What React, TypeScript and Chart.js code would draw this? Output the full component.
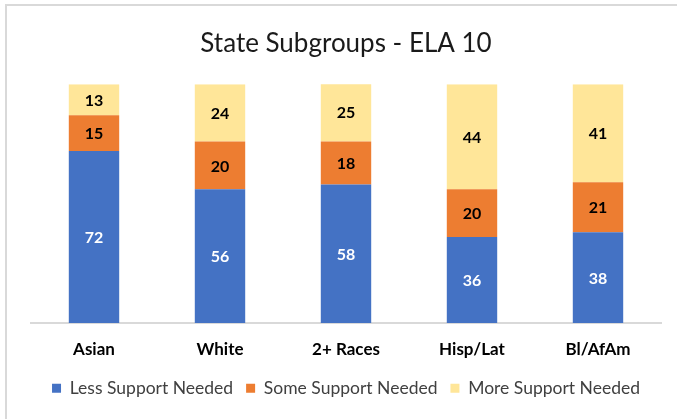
import React, { useEffect, useRef } from "react";
import { Chart, registerables } from "chart.js";

Chart.register(...registerables);

const categories = ["Asian", "White", "2+ Races", "Hisp/Lat", "Bl/AfAm"];
const lessSupport = [72, 56, 58, 36, 38];
const someSupport = [15, 20, 18, 20, 21];
const moreSupport = [13, 24, 25, 44, 41];
const seriesNames = ["Less Support Needed", "Some Support Needed", "More Support Needed"];
const FONT = "Lato, 'Open Sans', sans-serif";

const frame = {
  id: "frame",
  beforeDraw(chart: any) {
    const ctx = chart.ctx;
    ctx.save();
    ctx.fillStyle = "#ffffff";
    ctx.fillRect(0, 0, chart.width, chart.height);
    ctx.strokeStyle = "#d9d9d9";
    ctx.lineWidth = 2;
    ctx.strokeRect(6, 5, chart.width + 20, chart.height + 20);
    ctx.restore();
  },
};

const valueLabels = {
  id: "valueLabels",
  afterDatasetsDraw(chart: any) {
    const ctx = chart.ctx;
    ctx.save();
    ctx.font = `bold 16px ${FONT}`;
    ctx.textAlign = "center";
    ctx.textBaseline = "middle";
    chart.data.datasets.forEach((ds: any, di: number) => {
      const meta = chart.getDatasetMeta(di);
      meta.data.forEach((bar: any, i: number) => {
        const { x, y, base } = bar.getProps(["x", "y", "base"], true);
        ctx.fillStyle = di === 0 ? "#ffffff" : "#000000";
        ctx.fillText(String(ds.data[i]), x, (y + base) / 2 + 1);
      });
    });
    ctx.restore();
  },
};

export default function App() {
  const ref = useRef<HTMLCanvasElement>(null);
  useEffect(() => {
    document.body.style.margin = "0";
    const chart = new Chart(ref.current!, {
      type: "bar",
      data: {
        labels: categories,
        datasets: [
          { label: seriesNames[0], data: lessSupport, backgroundColor: "#4472C4" },
          { label: seriesNames[1], data: someSupport, backgroundColor: "#ED7D31" },
          { label: seriesNames[2], data: moreSupport, backgroundColor: "#FFE699" },
        ],
      },
      options: {
        animation: false,
        responsive: false,
        layout: { padding: { left: 31, right: 16, top: 0, bottom: 12 } },
        datasets: { bar: { barPercentage: 0.4, categoryPercentage: 1 } },
        scales: {
          x: {
            stacked: true,
            grid: { display: false, drawTicks: false },
            border: { display: true, color: "#d9d9d9", width: 2 },
            ticks: { color: "#000000", font: { family: FONT, size: 17, weight: "bold" }, padding: 16 },
          },
          y: { stacked: true, display: false, min: 0, max: 100 },
        },
        plugins: {
          title: {
            display: true,
            text: "State Subgroups - ELA 10",
            color: "#1a1a1a",
            font: { family: FONT, size: 26, weight: "normal" },
            padding: { top: 28, bottom: 25 },
          },
          legend: {
            position: "bottom",
            labels: {
              color: "#404040",
              font: { family: FONT, size: 17.5 },
              boxWidth: 9,
              boxHeight: 9,
              padding: 4,
              generateLabels: (chart: any) => {
                const items = Chart.defaults.plugins.legend.labels.generateLabels(chart);
                return items.map((it: any, i: number) =>
                  i < items.length - 1 ? { ...it, text: it.text + "  " } : it
                );
              },
            },
          },
          tooltip: { enabled: false },
        },
      },
      plugins: [frame, valueLabels],
    });
    return () => chart.destroy();
  }, []);
  return (
    <div style={{ position: "absolute", left: 0, top: 0, width: 677, height: 419 }}>
      <canvas ref={ref} width={677} height={419} />
    </div>
  );
}
